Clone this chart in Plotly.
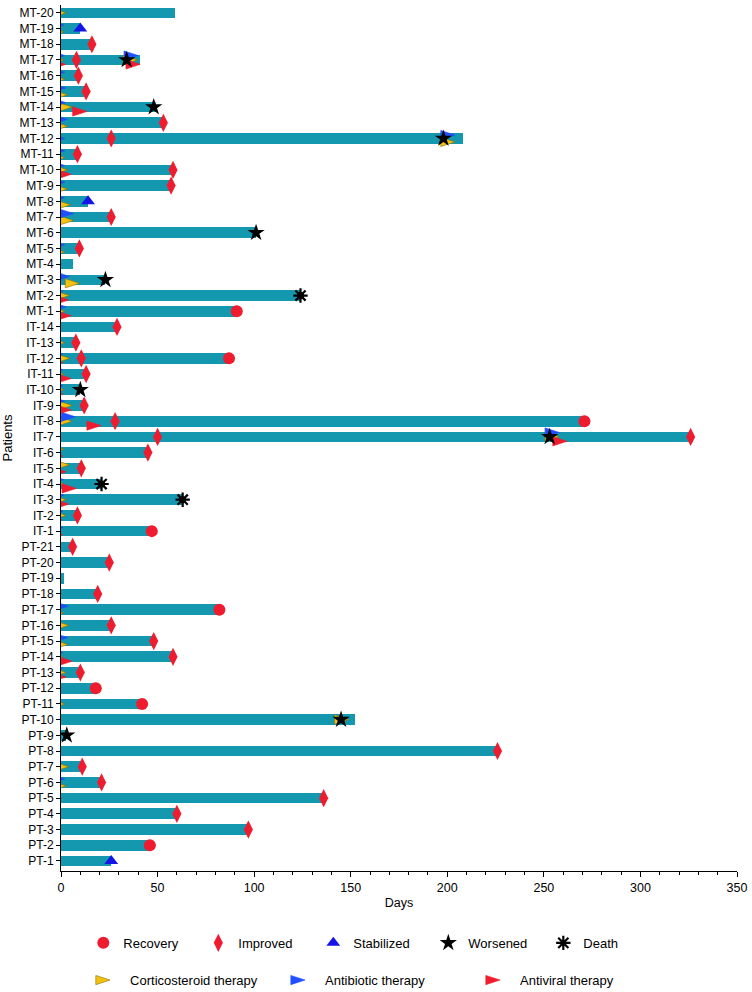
import plotly.graph_objects as go

# ---------------- data ----------------
patients = [f"PT-{i}" for i in range(1, 22)] + [f"IT-{i}" for i in range(1, 15)] + [f"MT-{i}" for i in range(1, 21)]

durations = [
    # PT-1 .. PT-21
    26, 46, 97, 60, 136, 21, 11, 226, 2.5, 152, 42, 18, 10, 58, 48, 26, 82, 19, 1.5, 25, 6,
    # IT-1 .. IT-14
    47, 9, 63, 21, 11, 45, 326, 271, 12, 10, 13, 87, 8, 29,
    # MT-1 .. MT-20
    91, 124, 23, 6, 10, 101, 26, 14, 57, 58, 9, 208, 53, 49, 13, 9, 41, 16, 10, 59,
]

outcome_patient = [
    "PT-1", "PT-2", "PT-3", "PT-4", "PT-5", "PT-6", "PT-7", "PT-8", "PT-9", "PT-10",
    "PT-11", "PT-12", "PT-13", "PT-14", "PT-15", "PT-16", "PT-17", "PT-18", "PT-20", "PT-21",
    "IT-1", "IT-2", "IT-3", "IT-4", "IT-5", "IT-6", "IT-7", "IT-7", "IT-7", "IT-8", "IT-8",
    "IT-9", "IT-10", "IT-11", "IT-12", "IT-12", "IT-13", "IT-14",
    "MT-1", "MT-2", "MT-3", "MT-5", "MT-6", "MT-7", "MT-8", "MT-9", "MT-10", "MT-11",
    "MT-12", "MT-12", "MT-13", "MT-14", "MT-15", "MT-16", "MT-17", "MT-17", "MT-18", "MT-19",
]
outcome_day = [
    26, 46, 97, 60, 136, 21, 11, 226, 3, 145,
    42, 18, 10, 58, 48, 26, 82, 19, 25, 6,
    47, 8.5, 63, 21, 10.5, 45, 50, 253, 326, 28, 271,
    12, 10, 13, 10.5, 87, 7.7, 29,
    91, 124, 23, 9.5, 101, 26, 14, 57, 58, 8.5,
    26, 198, 53, 48, 13, 9, 8, 34, 16, 10,
]
outcome_type = [
    "Stabilized", "Recovery", "Improved", "Improved", "Improved", "Improved", "Improved", "Improved", "Worsened", "Worsened",
    "Recovery", "Recovery", "Improved", "Improved", "Improved", "Improved", "Recovery", "Improved", "Improved", "Improved",
    "Recovery", "Improved", "Death", "Death", "Improved", "Improved", "Improved", "Worsened", "Improved", "Improved", "Recovery",
    "Improved", "Worsened", "Improved", "Improved", "Recovery", "Improved", "Improved",
    "Recovery", "Death", "Worsened", "Improved", "Worsened", "Improved", "Stabilized", "Improved", "Improved", "Improved",
    "Improved", "Worsened", "Improved", "Worsened", "Improved", "Improved", "Improved", "Worsened", "Improved", "Stabilized",
]

# therapy events: A = antibiotic, C = corticosteroid, V = antiviral
therapy_patient = [
    "MT-20", "MT-19", "MT-19",
    "MT-17", "MT-17", "MT-17", "MT-17", "MT-17", "MT-17",
    "MT-16", "MT-16", "MT-15", "MT-15", "MT-14", "MT-14", "MT-14", "MT-13", "MT-13",
    "MT-12", "MT-12", "MT-12", "MT-11", "MT-11", "MT-10", "MT-10", "MT-10",
    "MT-9", "MT-9", "MT-8", "MT-8", "MT-7", "MT-7", "MT-5", "MT-5", "MT-3", "MT-3",
    "MT-2", "MT-2", "MT-2", "MT-1", "MT-1", "MT-1",
    "IT-13", "IT-12", "IT-12", "IT-12", "IT-11", "IT-11", "IT-11", "IT-10", "IT-10", "IT-10",
    "IT-9", "IT-9", "IT-9", "IT-8", "IT-8", "IT-8", "IT-7", "IT-7", "IT-7",
    "IT-6", "IT-6", "IT-5", "IT-5", "IT-4", "IT-4", "IT-4", "IT-3", "IT-3", "IT-3",
    "IT-2", "IT-2", "IT-2", "IT-1", "IT-1",
    "PT-17", "PT-17", "PT-16", "PT-15", "PT-15", "PT-14", "PT-14", "PT-14",
    "PT-13", "PT-13", "PT-13", "PT-11", "PT-10", "PT-7", "PT-6", "PT-6",
]
therapy_day = [
    2.7, 1.5, 1.5,
    2, 1.5, 2.5, 40, 39.5, 41,
    2, 2, 2.5, 3.4, 2.5, 5.8, 13.4, 3.4, 3.4,
    2, 204, 204, 2, 2, 2, 5.3, 3.4,
    2, 3.4, 1.8, 5, 6.5, 6.5, 2, 2, 4.4, 9.6,
    1, 4.4, 4, 2, 5.3, 2.7,
    2, 1, 4.6, 1, 1, 5.3, 1.5, 1, 1.5, 1,
    2, 5.8, 5.3, 5.8, 7.5, 20.8, 258, 258, 262,
    1, 1.5, 2.7, 4.4, 1.5, 1.5, 7.9, 1.5, 2.7, 4,
    1, 0.3, 2.7, 1, 1,
    1.5, 3.8, 4, 3.5, 3.5, 1, 5.8, 1,
    1, 2.7, 2.7, 2, 149, 4, 2, 2.7,
]
therapy_type = [
    "C", "C", "A",
    "A", "C", "V", "A", "C", "V",
    "C", "A", "A", "C", "A", "C", "V", "A", "C",
    "A", "A", "C", "A", "C", "A", "V", "C",
    "A", "C", "A", "C", "A", "C", "A", "C", "A", "C",
    "A", "C", "V", "C", "V", "A",
    "C", "A", "C", "V", "A", "V", "C", "A", "C", "V",
    "A", "C", "V", "C", "A", "V", "A", "C", "V",
    "V", "C", "V", "C", "A", "C", "V", "A", "C", "V",
    "A", "V", "C", "A", "V",
    "C", "A", "C", "C", "A", "C", "V", "A",
    "A", "C", "V", "C", "C", "C", "A", "C",
]

# ---------------- styling ----------------
BAR = "#1398b0"
RED = "#ee1c2e"
FONT = "Liberation Sans, Arial, Helvetica, sans-serif"

ypos = {p: i for i, p in enumerate(patients)}

fig = go.Figure()
fig.add_trace(go.Bar(
    x=durations, y=list(range(len(patients))), orientation="h",
    marker=dict(color=BAR, line=dict(width=0)), width=0.68,
    showlegend=False, hoverinfo="x+text", text=patients, textposition="none",
))

# therapy markers: vertical slots computed per patient / episode
order = {"A": 0, "C": 1, "V": 2}
groups = {}
for i, (p, d, t) in enumerate(zip(therapy_patient, therapy_day, therapy_type)):
    key = (p, d > 30)
    groups.setdefault(key, []).append(i)
offset = [0.0] * len(therapy_day)
slots = {1: [0.0], 2: [0.22, -0.22], 3: [0.28, 0.0, -0.28]}
for key, idx in groups.items():
    idx_sorted = sorted(idx, key=lambda k: (order[therapy_type[k]], therapy_day[k]))
    n = min(len(idx_sorted), 3)
    for j, k in enumerate(idx_sorted):
        offset[k] = slots[n][min(j, n - 1)]

outcome_style = {
    "Recovery": dict(symbol="circle", color=RED, size=12),
    "Improved": dict(symbol="diamond-tall", color=RED, size=13),
    "Stabilized": dict(symbol="triangle-up", color="#1414e6", size=12),
    "Worsened": dict(symbol="star", color="black", size=13),
}
therapy_style = {
    "C": ("Corticosteroid therapy", "#f3c20f", "#8a7000"),
    "A": ("Antibiotic therapy", "#1f4fff", "#1f4fff"),
    "V": ("Antiviral therapy", RED, RED),
}

# therapy traces (drawn under outcome markers)
for t in ["C", "A", "V"]:
    name, col, edge = therapy_style[t]
    xs = [d for d, tt in zip(therapy_day, therapy_type) if tt == t]
    ys = [ypos[p] + offset[k] for k, (p, tt) in enumerate(zip(therapy_patient, therapy_type)) if tt == t]
    fig.add_trace(go.Scatter(
        x=xs, y=ys, mode="markers", name=name, legend="legend2",
        marker=dict(symbol="arrow", angle=90, size=15, color=col, line=dict(color=edge, width=0.6)),
    ))

for o in ["Recovery", "Improved", "Stabilized", "Worsened"]:
    st = outcome_style[o]
    xs = [d for d, tt in zip(outcome_day, outcome_type) if tt == o]
    ys = [ypos[p] for p, tt in zip(outcome_patient, outcome_type) if tt == o]
    fig.add_trace(go.Scatter(
        x=xs, y=ys, mode="markers", name=o, legend="legend",
        marker=dict(symbol=st["symbol"], size=st["size"], color=st["color"], line=dict(width=0)),
    ))

dx = [d for d, tt in zip(outcome_day, outcome_type) if tt == "Death"]
dy = [ypos[p] for p, tt in zip(outcome_patient, outcome_type) if tt == "Death"]
fig.add_trace(go.Scatter(
    x=dx, y=dy, mode="markers", name="Death", legend="legend",
    marker=dict(symbol="asterisk-open", size=12, color="black", line=dict(color="black", width=2.2)),
))
fig.add_trace(go.Scatter(
    x=dx, y=dy, mode="markers", showlegend=False,
    marker=dict(symbol="circle", size=7, color="black"),
))

fig.update_layout(
    width=752, height=992,
    margin=dict(l=61, r=15, t=5, b=121, autoexpand=False),
    plot_bgcolor="white", paper_bgcolor="white",
    font=dict(family=FONT, size=12, color="black"),
    bargap=0,
    xaxis=dict(
        range=[0, 350], tickvals=[0, 50, 100, 150, 200, 250, 300, 350],
        ticks="outside", ticklen=5, tickcolor="black", showline=True, linecolor="black",
        linewidth=1, showgrid=False, zeroline=False, automargin=False,
        minor=dict(ticks="outside", ticklen=3, dtick=10, tickcolor="black", showgrid=False),
        title=dict(text="Days", font=dict(size=12.5), standoff=4),
        tickfont=dict(size=12.5),
    ),
    yaxis=dict(
        range=[-0.64, 54.5], tickvals=list(range(len(patients))), ticktext=patients,
        ticks="outside", ticklen=4, tickcolor="black", showline=True, linecolor="black",
        linewidth=1, showgrid=False, zeroline=False, automargin=False,
        title=dict(text="Patients", font=dict(size=13), standoff=6),
        tickfont=dict(size=12),
    ),
    legend=dict(
        orientation="h", x=0.033, xanchor="left", y=-0.083, yanchor="middle",
        entrywidth=70, entrywidthmode="pixels", font=dict(size=13),
        bgcolor="rgba(0,0,0,0)", traceorder="normal",
    ),
    legend2=dict(
        orientation="h", x=0.043, xanchor="left", y=-0.126, yanchor="middle",
        entrywidth=150, entrywidthmode="pixels", font=dict(size=13),
        bgcolor="rgba(0,0,0,0)", traceorder="normal",
    ),
)

fig.write_html("out.html", config={"displayModeBar": False},
               post_script="document.body.style.margin='0';")
